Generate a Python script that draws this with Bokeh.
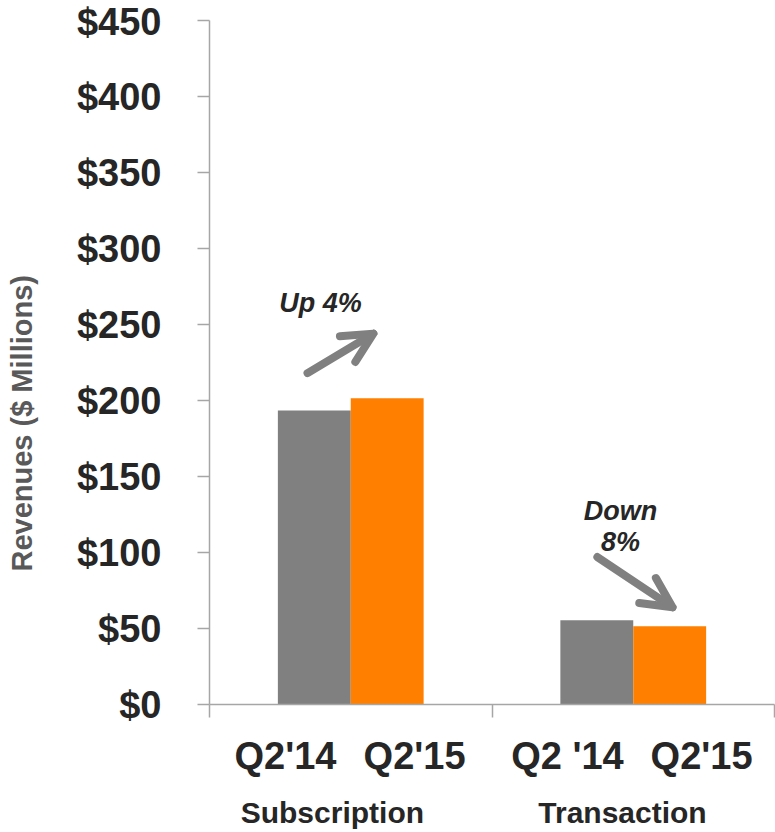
import math
from bokeh.plotting import figure
from bokeh.layouts import row
from bokeh.models import (FixedTicker, NumeralTickFormatter, Range1d, LinearAxis,
                          Arrow, OpenHead)
from bokeh.core.properties import value
from bokeh.embed import file_html
from bokeh.resources import INLINE

# ---------------- data ----------------
groups = ["Subscription", "Transaction"]
quarter_labels = ["Q2'14", "Q2'15", "Q2 '14", "Q2'15"]
q2_14 = [193.5, 55.5]
q2_15 = [201.5, 51.5]
change_lines = [["Up 4%"], ["Down", "8%"]]
y_ticks = [0, 50, 100, 150, 200, 250, 300, 350, 400, 450]
y_title = "Revenues ($ Millions)"

# ---------------- layout / style ----------------
FONT = "Liberation Sans"
GRAY = "#808080"
ORANGE = "#FF8000"
AXIS = "#a6a6a6"
DARK = "#262626"

W, H = 775, 832
TITLE_W = 45
TOP, BOTTOM = 20, 128

bar_offset = 0.129
bar_width = 0.258
quarter_pos = [0.269, 0.726, 1.267, 1.742]
group_pos = [0.435, 1.462]
sep_pos = [0, 1, 2]
title_x, title_y = 21, 185

# --- narrow strip holding the rotated y-axis title ---
t = figure(width=TITLE_W, height=H, x_range=Range1d(0, TITLE_W), y_range=Range1d(0, 450),
           output_backend="svg", toolbar_location=None,
           x_axis_location=None, y_axis_location=None,
           min_border_left=0, min_border_right=0, min_border_top=TOP,
           min_border_bottom=BOTTOM)
t.outline_line_color = None
t.xgrid.visible = False
t.ygrid.visible = False
t.text(x=[title_x], y=[title_y], text=[y_title], angle=math.pi / 2,
       text_align="center", text_baseline="alphabetic",
       text_font=value(FONT), text_font_size="29px", text_font_style="bold",
       text_color="#595959")

# --- main chart ---
p = figure(width=W - TITLE_W, height=H, x_range=Range1d(0, 2), y_range=Range1d(0, 450),
           output_backend="svg", toolbar_location=None,
           min_border_left=209 - TITLE_W, min_border_right=1, min_border_top=TOP,
           min_border_bottom=BOTTOM)
p.outline_line_color = None
p.xgrid.visible = False
p.ygrid.visible = False
p.background_fill_color = "white"
p.border_fill_color = "white"

x14 = [i + 0.5 - bar_offset for i in range(len(groups))]
x15 = [i + 0.5 + bar_offset for i in range(len(groups))]
p.vbar(x=x14, top=q2_14, width=bar_width, fill_color=GRAY, line_color=None)
p.vbar(x=x15, top=q2_15, width=bar_width, fill_color=ORANGE, line_color=None)

# y axis
ya = p.yaxis[0]
ya.ticker = FixedTicker(ticks=y_ticks, minor_ticks=[])
ya.formatter = NumeralTickFormatter(format="$0")
ya.major_label_text_font = FONT
ya.major_label_text_font_size = "38px"
ya.major_label_text_font_style = "bold"
ya.major_label_text_color = DARK
ya.major_tick_out = 12
ya.major_tick_in = 0
ya.minor_tick_line_color = None
ya.axis_line_color = AXIS
ya.axis_line_width = 1.5
ya.major_tick_line_color = AXIS
ya.major_tick_line_width = 1.5
ya.major_label_standoff = 36

# x axis with quarter labels and group separators
xa = p.xaxis[0]
xa.ticker = FixedTicker(ticks=quarter_pos, minor_ticks=sep_pos)
xa.major_label_overrides = {pos: lab for pos, lab in zip(quarter_pos, quarter_labels)}
xa.major_tick_line_color = None
xa.major_tick_out = 0
xa.major_tick_in = 0
xa.minor_tick_out = 13
xa.minor_tick_in = 0
xa.minor_tick_line_color = AXIS
xa.minor_tick_line_width = 1.5
xa.axis_line_color = AXIS
xa.axis_line_width = 1.5
xa.major_label_text_font = FONT
xa.major_label_text_font_size = "38px"
xa.major_label_text_font_style = "bold"
xa.major_label_text_color = DARK
xa.major_label_standoff = 17

# group labels on a second, line-less axis
ga = LinearAxis(ticker=FixedTicker(ticks=group_pos, minor_ticks=[]),
                major_label_overrides={pos: lab for pos, lab in zip(group_pos, groups)},
                axis_line_color=None, major_tick_line_color=None,
                minor_tick_line_color=None, major_tick_out=0, major_tick_in=0,
                major_label_standoff=16,
                major_label_text_font=FONT, major_label_text_font_size="30px",
                major_label_text_font_style="bold", major_label_text_color=DARK)
p.add_layout(ga, "below")

# change annotations
text_x = [0.393, 1.455, 1.455]
text_y = [264, 127, 107]
texts = [s for lines in change_lines for s in lines]
p.text(x=text_x, y=text_y, text=texts, text_align="center", text_baseline="alphabetic",
       text_font=value(FONT), text_font_size="27px", text_font_style="bold italic",
       text_color=DARK)

arrows = [(0.347, 218, 0.580, 244), (1.373, 97, 1.639, 64)]
for xs, ys, xe, ye in arrows:
    p.add_layout(Arrow(x_start=xs, y_start=ys, x_end=xe, y_end=ye,
                       line_color=GRAY, line_width=8, line_cap="round",
                       end=OpenHead(size=30, line_width=8, line_color=GRAY,
                                    line_cap="round", line_join="round")))

layout = row(t, p, spacing=0)
open("out.html", "w").write(file_html(layout, INLINE))
